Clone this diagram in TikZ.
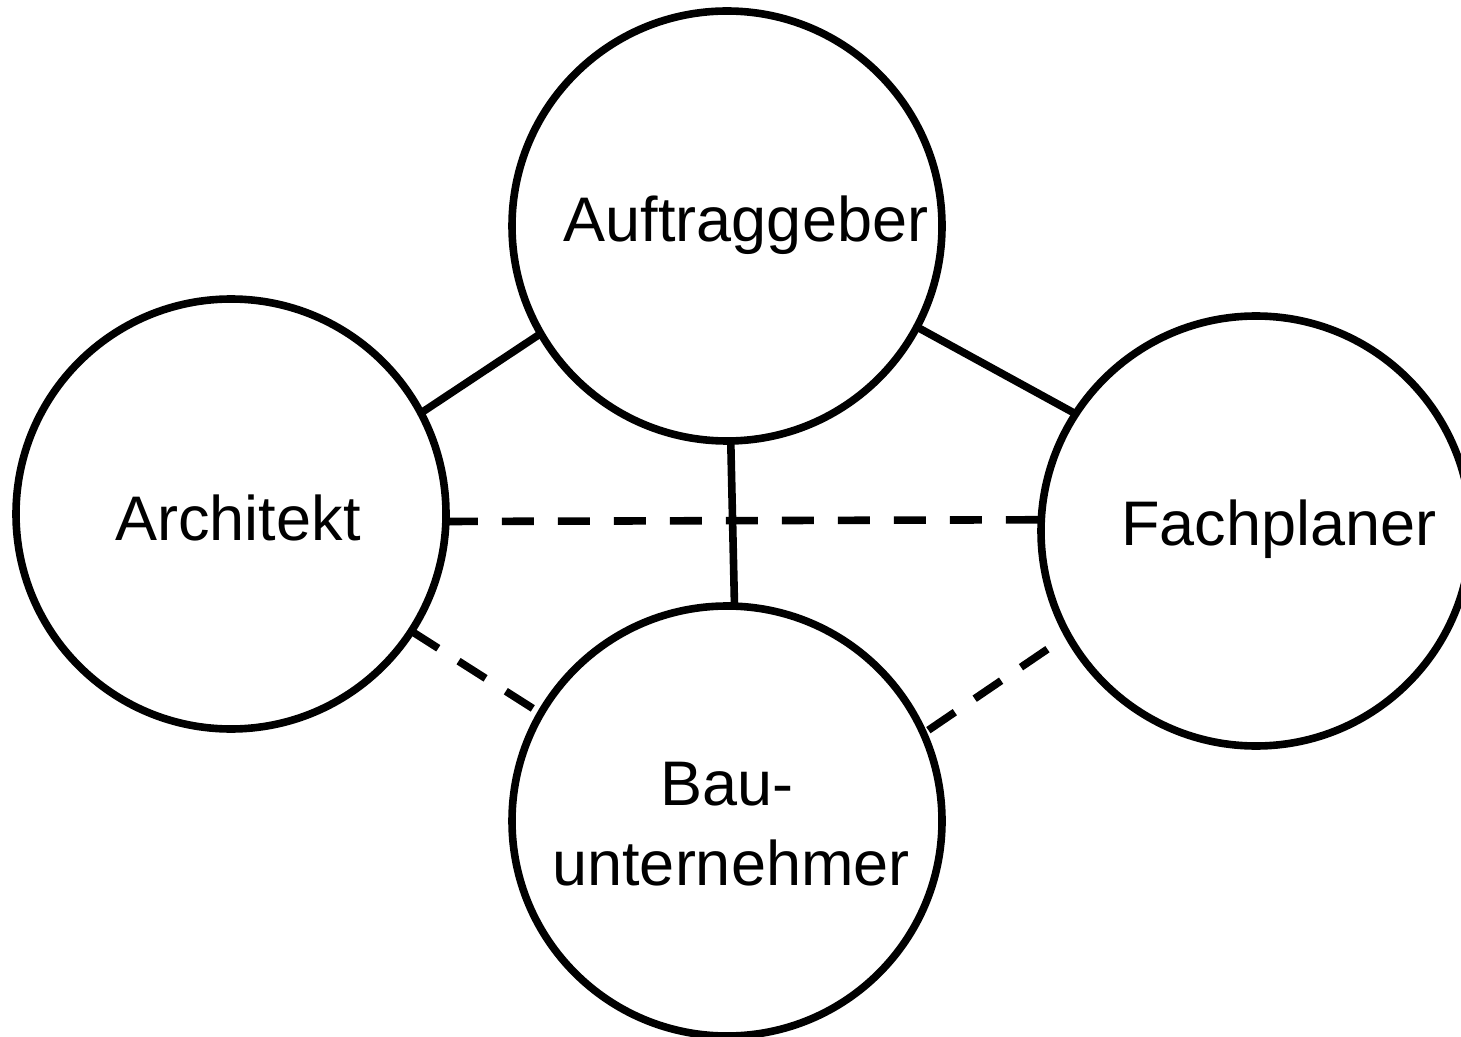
\documentclass[tikz,border=0pt]{standalone}
\usepackage{fontspec}
\setmainfont{Liberation Sans}
\begin{document}
\begin{tikzpicture}[x=0.5pt,y=-0.5pt,
  party/.style={circle,draw=black,line width=3.8pt,minimum size=215pt,inner sep=0pt,outer sep=0pt},
  lbl/.style={anchor=base,inner sep=0pt,font=\fontsize{31.5}{38}\selectfont},
  solidlink/.style={line width=3.8pt,line cap=butt},
  dashlink/.style={line width=3.8pt,line cap=butt,dash pattern=on 16pt off 12pt}]
\useasboundingbox (0,0) rectangle (1461,1037);
\node[party] (auf) at (727,226) {};
\node[party] (arch) at (231,514) {};
\node[party] (fach) at (1256,531) {};
\node[party] (bau) at (727,821) {};
\node[lbl] (tauf) at (746,242) {Auftraggeber};
\node[lbl] (tarch) at (238,540) {Architekt};
\node[lbl] (tfach) at (1279,545) {Fachplaner};
\node[lbl] (tbau1) at (727,805) {Bau-};
\node[lbl] (tbau2) at (731,885) {unternehmer};
\draw[solidlink] (auf.210) -- (arch.28);
\draw[solidlink] (auf.-28) -- (fach.147);
\draw[solidlink] (auf.271.3) -- (bau.88.7);
\draw[dashlink] (arch.-2.4) -- (fach.177.9);
\draw[dashlink] (arch.-33.2) -- (bau.150.4);
\draw[dashlink,shorten <=3pt] (bau.24.8) -- (fach.209.7);
\end{tikzpicture}
\end{document}
